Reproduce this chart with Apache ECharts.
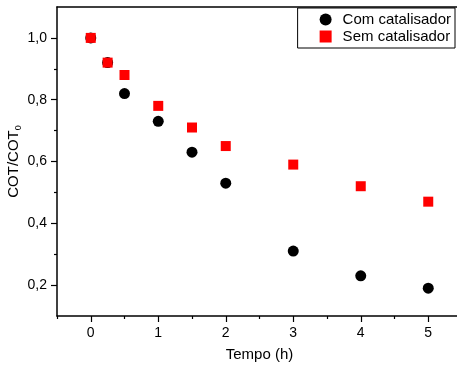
<!DOCTYPE html>
<html>
<head>
<meta charset="utf-8">
<script src="https://cdn.jsdelivr.net/npm/echarts@6/dist/echarts.min.js"></script>
<style>
  html, body { margin: 0; padding: 0; background: #fff; }
  #chart { width: 457px; height: 366px; }
</style>
</head>
<body>
<div id="chart"></div>
<script>
const tempo = [0, 0.25, 0.5, 1, 1.5, 2, 3, 4, 5];
const comCatalisador = [1.0, 0.92, 0.82, 0.73, 0.63, 0.53, 0.31, 0.23, 0.19];
const semCatalisador = [1.0, 0.92, 0.88, 0.78, 0.71, 0.65, 0.59, 0.52, 0.47];

const xMajor = [0, 1, 2, 3, 4, 5];
const xMinor = [-0.5, 0.5, 1.5, 2.5, 3.5, 4.5];
const yMajor = [0.2, 0.4, 0.6, 0.8, 1.0];
const yMinor = [0.3, 0.5, 0.7, 0.9];

const pairs = (xs, ys) => xs.map((x, i) => [x, ys[i]]);
const font = 'Liberation Sans, Arial, sans-serif';

const chart = echarts.init(document.getElementById('chart'));

const baseX = { type: 'value', min: -0.5, max: 5.5, splitLine: { show: false } };
const baseY = { type: 'value', min: 0.1, max: 1.1, splitLine: { show: false } };

chart.setOption({
  animation: false,
  textStyle: { fontFamily: font },
  grid: {
    left: 57, top: 7, width: 405, height: 309,
    show: false, containLabel: false, outerBoundsMode: 'none'
  },
  legend: {
    orient: 'vertical',
    right: 2,
    top: 8,
    borderColor: '#000',
    borderWidth: 1,
    borderRadius: 0,
    padding: [4, 4, 4, 22],
    itemGap: 2,
    itemWidth: 12,
    itemHeight: 12,
    textStyle: { fontSize: 15, color: '#000', fontFamily: font, padding: [0, 0, 0, 6] },
    data: [
      { name: 'Com catalisador', icon: 'circle' },
      { name: 'Sem catalisador', icon: 'rect' }
    ]
  },
  xAxis: [
    Object.assign({}, baseX, {
      position: 'bottom',
      name: 'Tempo (h)',
      nameLocation: 'middle',
      nameGap: 31,
      nameMoveOverlap: false,
      nameTextStyle: { fontSize: 15, color: '#000' },
      axisLine: { onZero: false, lineStyle: { color: '#000', width: 1.5 } },
      axisTick: { customValues: xMajor, length: 6, lineStyle: { color: '#000', width: 1.2 } },
      axisLabel: { customValues: xMajor, fontSize: 14, color: '#000', margin: 10 }
    }),
    Object.assign({}, baseX, {
      position: 'bottom',
      axisLine: { show: false, onZero: false },
      axisTick: { customValues: xMinor, length: 3, lineStyle: { color: '#000', width: 1.2 } },
      axisLabel: { show: false }
    }),
    Object.assign({}, baseX, {
      position: 'top',
      axisLine: { onZero: false, lineStyle: { color: '#000', width: 1.5 } },
      axisTick: { show: false },
      axisLabel: { show: false }
    })
  ],
  yAxis: [
    Object.assign({}, baseY, {
      position: 'left',
      name: '{a|COT/COT}{b|0}',
      nameLocation: 'middle',
      nameGap: 34,
      nameRotate: 90,
      nameMoveOverlap: false,
      nameTextStyle: {
        color: '#000',
        rich: {
          a: { fontSize: 15, color: '#000', fontFamily: font },
          b: { fontSize: 9, color: '#000', fontFamily: font, verticalAlign: 'bottom', padding: [9, 0, 0, 0] }
        }
      },
      axisLine: { onZero: false, lineStyle: { color: '#000', width: 1.5 } },
      axisTick: { customValues: yMajor, length: 6, lineStyle: { color: '#000', width: 1.2 } },
      axisLabel: {
        customValues: yMajor,
        fontSize: 14,
        color: '#000',
        margin: 10,
        formatter: v => v.toFixed(1).replace('.', ',')
      }
    }),
    Object.assign({}, baseY, {
      position: 'left',
      axisLine: { show: false, onZero: false },
      axisTick: { customValues: yMinor, length: 3, lineStyle: { color: '#000', width: 1.2 } },
      axisLabel: { show: false }
    })
  ],
  series: [
    {
      name: 'Com catalisador',
      type: 'scatter',
      symbol: 'circle',
      symbolSize: 11,
      itemStyle: { color: '#000', opacity: 1 },
      data: pairs(tempo, comCatalisador)
    },
    {
      name: 'Sem catalisador',
      type: 'scatter',
      symbol: 'rect',
      symbolSize: 10,
      itemStyle: { color: '#ff0000', opacity: 1 },
      data: pairs(tempo, semCatalisador)
    }
  ]
});
</script>
</body>
</html>
